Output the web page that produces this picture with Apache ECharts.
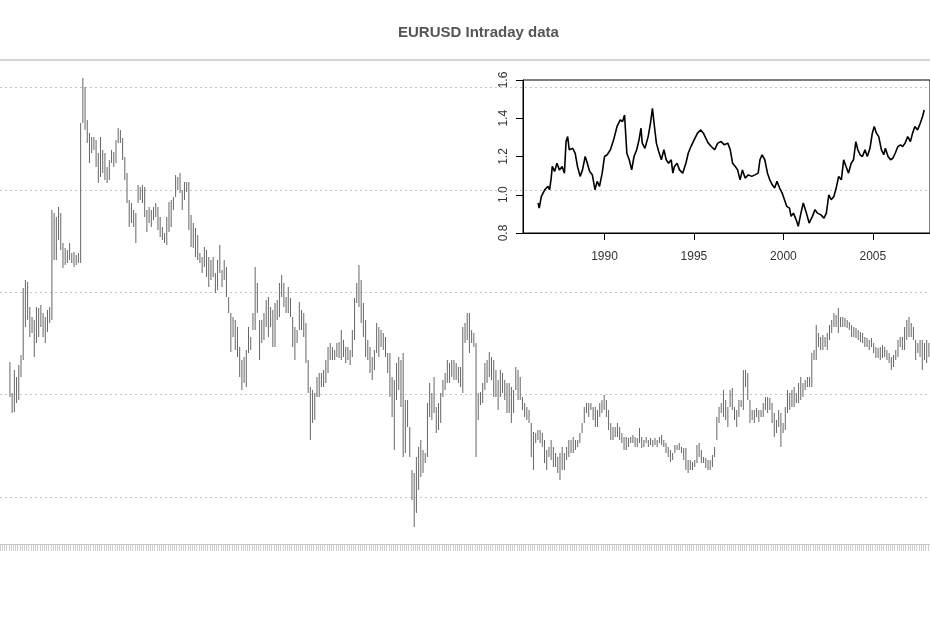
<!DOCTYPE html>
<html>
<head>
<meta charset="utf-8">
<title>EURUSD Intraday data</title>
<script src="https://cdn.jsdelivr.net/npm/echarts@6/dist/echarts.min.js"></script>
<style>
  html, body { margin: 0; padding: 0; background: #fff; }
  #chart { width: 930px; height: 620px; }
</style>
</head>
<body>
<div id="chart"></div>
<script>
  // main panel: high / low of each bar, left to right
  var barHigh = [
    1.4698,1.4667,1.4690,1.4683,1.4695,1.4705,1.4772,1.4780,1.4778,1.4753,
    1.4743,1.4740,1.4753,1.4752,1.4755,1.4747,1.4743,1.4750,1.4753,1.4850,
    1.4847,1.4843,1.4853,1.4847,1.4817,1.4812,1.4810,1.4817,1.4807,1.4808,
    1.4805,1.4807,1.4937,1.4982,1.4973,1.4940,1.4927,1.4923,1.4923,1.4920,
    1.4907,1.4923,1.4910,1.4907,1.4893,1.4900,1.4910,1.4908,1.4920,1.4932,
    1.4930,1.4922,1.4903,1.4887,1.4860,1.4857,1.4850,1.4847,1.4875,1.4873,
    1.4875,1.4873,1.4850,1.4853,1.4850,1.4853,1.4857,1.4853,1.4843,1.4833,
    1.4827,1.4843,1.4858,1.4860,1.4863,1.4885,1.4883,1.4887,1.4870,1.4878,
    1.4878,1.4878,1.4845,1.4837,1.4832,1.4825,1.4807,1.4803,1.4813,1.4810,
    1.4803,1.4800,1.4803,1.4787,1.4800,1.4815,1.4790,1.4800,1.4793,1.4763,
    1.4747,1.4743,1.4740,1.4733,1.4713,1.4700,1.4703,1.4710,1.4733,1.4723,
    1.4747,1.4793,1.4777,1.4740,1.4740,1.4747,1.4760,1.4763,1.4753,1.4750,
    1.4757,1.4760,1.4777,1.4785,1.4777,1.4763,1.4773,1.4762,1.4743,1.4733,
    1.4730,1.4758,1.4750,1.4747,1.4737,1.4700,1.4673,1.4670,1.4667,1.4683,
    1.4687,1.4687,1.4690,1.4700,1.4713,1.4717,1.4713,1.4710,1.4717,1.4718,
    1.4730,1.4720,1.4713,1.4713,1.4710,1.4730,1.4762,1.4777,1.4795,1.4780,
    1.4757,1.4740,1.4720,1.4713,1.4703,1.4710,1.4737,1.4733,1.4730,1.4727,
    1.4723,1.4707,1.4707,1.4683,1.4680,1.4697,1.4703,1.4700,1.4707,1.4660,
    1.4660,1.4633,1.4590,1.4587,1.4603,1.4613,1.4620,1.4610,1.4607,1.4657,
    1.4677,1.4667,1.4683,1.4653,1.4657,1.4667,1.4680,1.4687,1.4700,1.4697,
    1.4700,1.4700,1.4697,1.4693,1.4693,1.4733,1.4737,1.4747,1.4747,1.4730,
    1.4727,1.4717,1.4667,1.4668,1.4677,1.4697,1.4700,1.4708,1.4703,1.4700,
    1.4690,1.4680,1.4690,1.4687,1.4680,1.4677,1.4677,1.4673,1.4670,1.4693,
    1.4690,1.4683,1.4663,1.4657,1.4653,1.4650,1.4637,1.4628,1.4627,1.4630,
    1.4630,1.4627,1.4620,1.4610,1.4613,1.4620,1.4613,1.4607,1.4603,1.4607,
    1.4613,1.4607,1.4613,1.4620,1.4620,1.4623,1.4620,1.4620,1.4627,1.4637,
    1.4653,1.4657,1.4657,1.4657,1.4653,1.4653,1.4650,1.4657,1.4660,1.4665,
    1.4660,1.4650,1.4637,1.4633,1.4633,1.4637,1.4633,1.4627,1.4623,1.4623,
    1.4622,1.4623,1.4625,1.4623,1.4622,1.4632,1.4623,1.4620,1.4623,1.4620,
    1.4622,1.4620,1.4622,1.4620,1.4623,1.4625,1.4620,1.4617,1.4613,1.4610,
    1.4607,1.4615,1.4615,1.4617,1.4613,1.4612,1.4612,1.4600,1.4600,1.4598,
    1.4600,1.4615,1.4617,1.4610,1.4603,1.4602,1.4600,1.4600,1.4605,1.4613,
    1.4643,1.4653,1.4657,1.4670,1.4660,1.4653,1.4670,1.4672,1.4653,1.4650,
    1.4660,1.4660,1.4690,1.4690,1.4687,1.4660,1.4650,1.4650,1.4652,1.4650,
    1.4650,1.4657,1.4663,1.4663,1.4662,1.4657,1.4647,1.4640,1.4650,1.4647,
    1.4637,1.4653,1.4670,1.4667,1.4670,1.4673,1.4667,1.4677,1.4683,1.4677,
    1.4680,1.4683,1.4683,1.4707,1.4710,1.4735,1.4727,1.4723,1.4725,1.4723,
    1.4727,1.4735,1.4740,1.4747,1.4745,1.4752,1.4743,1.4743,1.4742,1.4740,
    1.4738,1.4735,1.4733,1.4732,1.4730,1.4728,1.4727,1.4723,1.4722,1.4720,
    1.4722,1.4717,1.4713,1.4712,1.4713,1.4715,1.4713,1.4710,1.4707,1.4703,
    1.4705,1.4710,1.4720,1.4723,1.4723,1.4733,1.4740,1.4743,1.4737,1.4733,
    1.4720,1.4717,1.4720,1.4720,1.4717,1.4720,1.4717
  ];
  var barLow = [
    1.4663,1.4647,1.4648,1.4657,1.4660,1.4683,1.4700,1.4733,1.4740,1.4723,
    1.4727,1.4703,1.4717,1.4723,1.4733,1.4723,1.4717,1.4728,1.4737,1.4740,
    1.4800,1.4800,1.4820,1.4810,1.4792,1.4795,1.4797,1.4800,1.4797,1.4793,
    1.4795,1.4797,1.4797,1.4937,1.4930,1.4917,1.4897,1.4907,1.4910,1.4893,
    1.4877,1.4883,1.4887,1.4880,1.4877,1.4880,1.4897,1.4893,1.4897,1.4917,
    1.4917,1.4900,1.4880,1.4857,1.4833,1.4837,1.4833,1.4817,1.4857,1.4860,
    1.4857,1.4843,1.4828,1.4837,1.4833,1.4840,1.4843,1.4830,1.4823,1.4820,
    1.4817,1.4815,1.4828,1.4833,1.4850,1.4863,1.4870,1.4867,1.4850,1.4860,
    1.4868,1.4830,1.4813,1.4812,1.4803,1.4800,1.4797,1.4787,1.4793,1.4783,
    1.4773,1.4780,1.4783,1.4767,1.4770,1.4787,1.4773,1.4780,1.4763,1.4747,
    1.4708,1.4723,1.4710,1.4703,1.4683,1.4670,1.4677,1.4673,1.4707,1.4710,
    1.4730,1.4730,1.4747,1.4700,1.4717,1.4720,1.4733,1.4723,1.4733,1.4713,
    1.4713,1.4740,1.4743,1.4763,1.4753,1.4747,1.4747,1.4743,1.4713,1.4700,
    1.4717,1.4730,1.4730,1.4723,1.4697,1.4667,1.4620,1.4637,1.4640,1.4663,
    1.4663,1.4673,1.4673,1.4677,1.4687,1.4700,1.4700,1.4700,1.4703,1.4702,
    1.4700,1.4703,1.4697,1.4700,1.4695,1.4703,1.4720,1.4757,1.4753,1.4737,
    1.4723,1.4703,1.4700,1.4687,1.4680,1.4690,1.4707,1.4703,1.4713,1.4710,
    1.4703,1.4687,1.4663,1.4643,1.4610,1.4660,1.4670,1.4653,1.4603,1.4607,
    1.4633,1.4603,1.4560,1.4533,1.4547,1.4570,1.4583,1.4587,1.4597,1.4603,
    1.4643,1.4640,1.4647,1.4627,1.4630,1.4637,1.4663,1.4670,1.4677,1.4677,
    1.4683,1.4680,1.4680,1.4677,1.4673,1.4667,1.4717,1.4720,1.4707,1.4717,
    1.4713,1.4603,1.4640,1.4655,1.4657,1.4670,1.4677,1.4683,1.4680,1.4663,
    1.4663,1.4650,1.4663,1.4667,1.4660,1.4647,1.4647,1.4637,1.4647,1.4670,
    1.4660,1.4660,1.4650,1.4643,1.4640,1.4637,1.4603,1.4590,1.4617,1.4620,
    1.4617,1.4613,1.4597,1.4590,1.4603,1.4600,1.4593,1.4593,1.4587,1.4580,
    1.4590,1.4590,1.4600,1.4603,1.4607,1.4607,1.4610,1.4613,1.4617,1.4627,
    1.4637,1.4647,1.4643,1.4650,1.4640,1.4633,1.4633,1.4643,1.4647,1.4650,
    1.4643,1.4630,1.4620,1.4620,1.4623,1.4623,1.4620,1.4617,1.4610,1.4610,
    1.4613,1.4617,1.4617,1.4613,1.4613,1.4617,1.4612,1.4613,1.4617,1.4613,
    1.4615,1.4613,1.4615,1.4613,1.4617,1.4615,1.4613,1.4607,1.4603,1.4598,
    1.4600,1.4607,1.4610,1.4610,1.4607,1.4600,1.4590,1.4587,1.4590,1.4590,
    1.4593,1.4597,1.4603,1.4597,1.4597,1.4592,1.4590,1.4590,1.4593,1.4603,
    1.4620,1.4637,1.4647,1.4643,1.4640,1.4633,1.4653,1.4650,1.4640,1.4633,
    1.4643,1.4653,1.4650,1.4673,1.4660,1.4637,1.4640,1.4637,1.4643,1.4638,
    1.4643,1.4643,1.4650,1.4647,1.4650,1.4637,1.4623,1.4627,1.4633,1.4613,
    1.4627,1.4630,1.4647,1.4650,1.4653,1.4653,1.4657,1.4657,1.4660,1.4663,
    1.4670,1.4673,1.4673,1.4673,1.4700,1.4700,1.4713,1.4710,1.4710,1.4713,
    1.4710,1.4720,1.4727,1.4733,1.4733,1.4727,1.4733,1.4733,1.4733,1.4732,
    1.4730,1.4723,1.4723,1.4722,1.4720,1.4718,1.4717,1.4713,1.4713,1.4710,
    1.4713,1.4707,1.4702,1.4702,1.4700,1.4702,1.4703,1.4700,1.4697,1.4690,
    1.4693,1.4700,1.4703,1.4713,1.4710,1.4710,1.4720,1.4723,1.4723,1.4720,
    1.4700,1.4707,1.4703,1.4690,1.4700,1.4697,1.4703
  ];
  // empty slots on the time axis before the first bar
  var leadSlots = 4;
  // dotted price levels of the main panel
  var gridLevels = [1.4973, 1.4870, 1.4768, 1.4666, 1.4563];

  // inset: long history of the rate
  var insetYears = [
    1986.29,1986.35,1986.47,1986.66,1986.84,1986.93,1987.02,1987.08,1987.21,1987.34,
    1987.48,1987.63,1987.76,1987.85,1987.94,1988.03,1988.22,1988.36,1988.49,1988.64,
    1988.77,1988.92,1989.04,1989.17,1989.32,1989.47,1989.59,1989.72,1989.87,1990.00,
    1990.15,1990.33,1990.51,1990.70,1990.88,1991.01,1991.12,1991.25,1991.38,1991.52,
    1991.65,1991.80,1991.93,1992.04,1992.11,1992.26,1992.44,1992.57,1992.68,1992.77,
    1992.90,1993.03,1993.18,1993.32,1993.45,1993.58,1993.73,1993.82,1993.91,1994.06,
    1994.19,1994.37,1994.55,1994.68,1994.83,1995.01,1995.20,1995.38,1995.53,1995.66,
    1995.80,1995.97,1996.15,1996.33,1996.52,1996.70,1996.89,1997.03,1997.16,1997.31,
    1997.44,1997.58,1997.71,1997.86,1998.04,1998.23,1998.41,1998.59,1998.69,1998.81,
    1998.96,1999.11,1999.24,1999.38,1999.51,1999.64,1999.79,1999.93,2000.06,2000.19,
    2000.34,2000.43,2000.56,2000.71,2000.83,2000.98,2001.11,2001.26,2001.44,2001.62,
    2001.77,2001.90,2002.08,2002.27,2002.40,2002.54,2002.67,2002.82,2002.95,2003.09,
    2003.24,2003.37,2003.50,2003.64,2003.79,2003.92,2004.05,2004.16,2004.29,2004.42,
    2004.56,2004.69,2004.84,2004.97,2005.08,2005.20,2005.33,2005.48,2005.61,2005.70,
    2005.85,2005.99,2006.12,2006.25,2006.40,2006.55,2006.67,2006.80,2006.95,2007.10,
    2007.22,2007.35,2007.50,2007.65,2007.78,2007.87
  ];
  var insetRate = [
    0.957,0.930,0.991,1.026,1.044,1.026,1.087,1.148,1.122,1.165,
    1.130,1.148,1.113,1.278,1.304,1.235,1.243,1.217,1.148,1.096,
    1.130,1.200,1.165,1.122,1.104,1.026,1.070,1.044,1.113,1.200,
    1.209,1.235,1.287,1.357,1.391,1.383,1.417,1.217,1.183,1.130,
    1.200,1.235,1.287,1.348,1.270,1.243,1.304,1.374,1.452,1.374,
    1.270,1.226,1.183,1.235,1.183,1.165,1.183,1.113,1.148,1.165,
    1.130,1.113,1.165,1.217,1.252,1.287,1.322,1.339,1.322,1.296,
    1.270,1.252,1.235,1.270,1.278,1.261,1.270,1.235,1.165,1.148,
    1.130,1.078,1.130,1.087,1.104,1.096,1.104,1.113,1.183,1.209,
    1.183,1.113,1.078,1.052,1.035,1.070,1.035,1.009,0.974,0.939,
    0.930,0.887,0.904,0.870,0.835,0.904,0.957,0.913,0.852,0.887,
    0.922,0.904,0.896,0.878,0.904,1.000,0.974,0.991,1.035,1.096,
    1.078,1.183,1.148,1.113,1.165,1.183,1.278,1.235,1.209,1.200,
    1.235,1.200,1.243,1.322,1.357,1.322,1.304,1.235,1.209,1.243,
    1.200,1.183,1.191,1.217,1.252,1.261,1.252,1.270,1.304,1.278,
    1.322,1.357,1.339,1.374,1.409,1.443
  ];
  var insetYearTicks = [1990, 1995, 2000, 2005];

  // time slots of the main axis (labels are not shown)
  var slots = [];
  for (var s = 0; s < leadSlots + barHigh.length; s++) {
    slots.push(String(s));
  }
  var barData = barHigh.map(function (h, i) {
    return [i + leadSlots, h, barLow[i]];
  });
  var insetData = insetYears.map(function (y, i) {
    return [y, insetRate[i]];
  });

  var myChart = echarts.init(document.getElementById('chart'), null, { renderer: 'canvas' });
  myChart.setOption({
    animation: false,
    backgroundColor: '#fff',
    textStyle: { fontFamily: 'Liberation Sans, Arial, sans-serif' },
    title: {
      text: 'EURUSD Intraday data',
      left: 393,
      top: 20,
      textStyle: { fontSize: 15, fontWeight: 'bold', color: '#555' }
    },
    grid: [
      { left: 0, right: 0, top: 60, bottom: 76 },
      {
        left: 523, right: -6, top: 80, bottom: 387,
        show: true, borderColor: '#000', borderWidth: 1,
        backgroundColor: 'transparent'
      }
    ],
    xAxis: [
      {
        type: 'category', gridIndex: 0, data: slots, boundaryGap: true,
        axisLine: { lineStyle: { color: '#bdbdbd', width: 1 } },
        axisTick: { show: true, interval: 0, length: 7, lineStyle: { color: '#cfcfcf', width: 1 } },
        axisLabel: { show: false },
        splitLine: { show: false }
      },
      {
        type: 'category', gridIndex: 0, data: slots, position: 'top',
        axisLine: { lineStyle: { color: '#c6c6c6', width: 1.5 } },
        axisTick: { show: false },
        axisLabel: { show: false },
        splitLine: { show: false }
      },
      {
        type: 'value', gridIndex: 1, min: 1985.444, max: 2008.195,
        axisLine: { show: true, lineStyle: { color: '#000', width: 1 } },
        axisTick: { show: true, length: 7, customValues: insetYearTicks, lineStyle: { color: '#000' } },
        axisLabel: {
          customValues: insetYearTicks, margin: 18, fontSize: 12, color: '#333',
          formatter: function (v) { return String(Math.round(v)); }
        },
        splitLine: { show: false }
      }
    ],
    yAxis: [
      {
        type: 'value', gridIndex: 0, min: 1.4516, max: 1.5000,
        axisLine: { show: false }, axisTick: { show: false },
        axisLabel: { show: false }, splitLine: { show: false }
      },
      {
        type: 'value', gridIndex: 1, min: 0.8, max: 1.6, interval: 0.2,
        axisLine: { show: true, lineStyle: { color: '#000', width: 1 } },
        axisTick: { show: true, length: 7, lineStyle: { color: '#000' } },
        axisLabel: {
          rotate: 90, margin: 13, fontSize: 12, color: '#333',
          formatter: function (v) { return v.toFixed(1); }
        },
        splitLine: { show: false }
      }
    ],
    series: [
      {
        // high-low bars, with the dotted price levels behind them
        type: 'custom', xAxisIndex: 0, yAxisIndex: 0, z: 2,
        data: barData,
        encode: { x: 0, y: [1, 2] },
        renderItem: function (params, api) {
          var top = api.coord([api.value(0), api.value(1)]);
          var bot = api.coord([api.value(0), api.value(2)]);
          return {
            type: 'line',
            shape: { x1: top[0], y1: top[1], x2: bot[0], y2: bot[1] },
            style: { stroke: '#666', lineWidth: 1 }
          };
        },
        markLine: {
          silent: true, symbol: 'none', label: { show: false }, z: 1,
          precision: 4,
          lineStyle: { type: [2, 3], color: '#c4c4c4', width: 1 },
          data: gridLevels.map(function (v) { return { yAxis: v }; })
        }
      },
      {
        type: 'line', xAxisIndex: 2, yAxisIndex: 1, z: 3,
        data: insetData, showSymbol: false,
        lineStyle: { color: '#000', width: 1.6 }
      }
    ]
  });
</script>
</body>
</html>
